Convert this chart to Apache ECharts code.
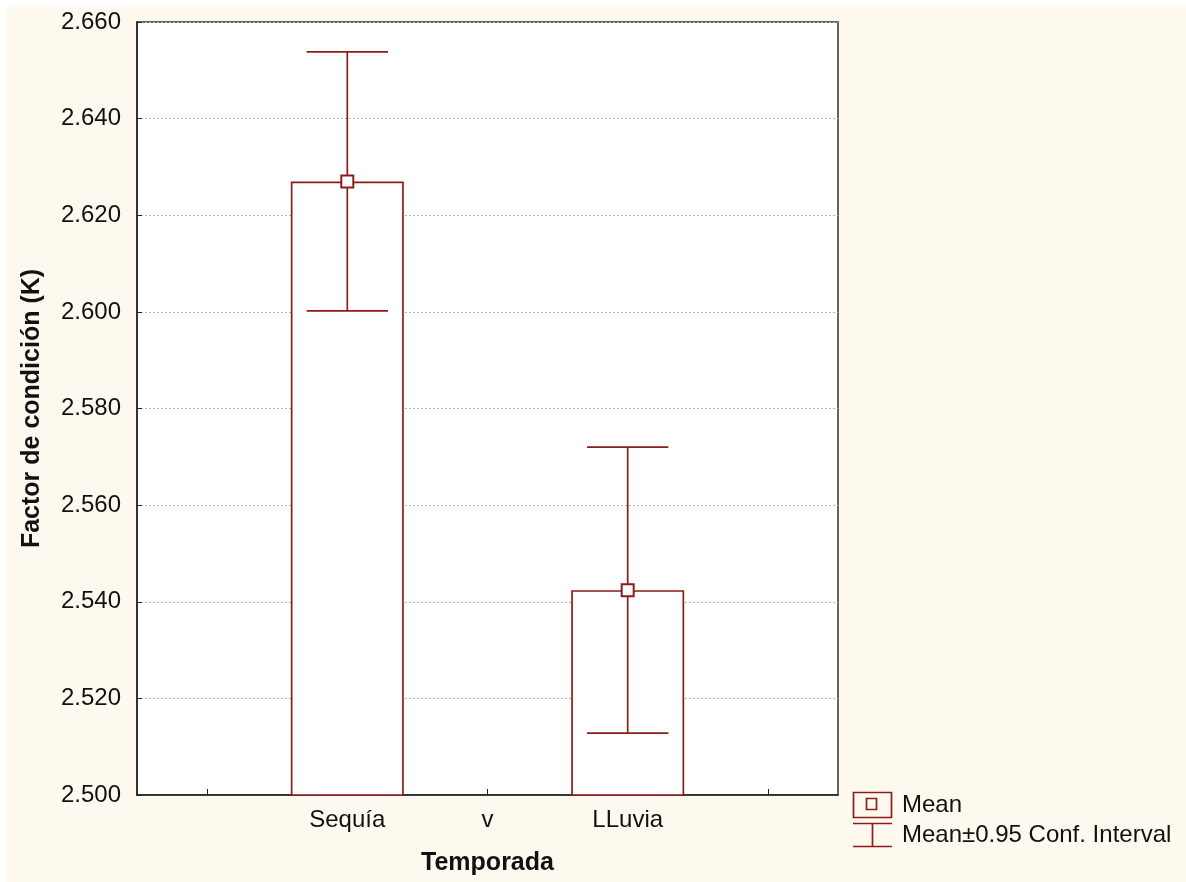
<!DOCTYPE html>
<html><head><meta charset="utf-8">
<script src="https://cdn.jsdelivr.net/npm/echarts@6/dist/echarts.min.js"></script>
<style>
html,body{margin:0;padding:0;background:#fff;}
#bg{position:absolute;left:6px;top:7px;width:1180px;height:875px;background:#FEF9EF;}
#chart{position:absolute;left:0;top:0;width:1186px;height:882px;}
</style></head><body>
<div id="bg"></div><div id="chart"></div>
<script>
// ---- data ----
const categories = ['', 'Sequía', 'v', 'LLuvia', ''];
const means      = [null, 2.6270, null, 2.5424, null];
const ciLower    = [null, 2.6002, null, 2.5128, null];
const ciUpper    = [null, 2.6538, null, 2.5720, null];
const yMin = 2.500, yMax = 2.660, yStep = 0.020;
const xTitle = 'Temporada';
const yTitle = 'Factor de condición (K)';
const legendLabels = ['Mean', 'Mean±0.95 Conf. Interval'];

// ---- build ----
const RED = '#8c1c1c';
const FONT = '"Liberation Sans", Arial, sans-serif';
const TXT = '#111111';
const FS = 24, FSB = 25, LW = 1.7;
const errData = [];
const meanData = [];
categories.forEach((c, i) => {
  if (means[i] != null) {
    errData.push([i, ciLower[i], ciUpper[i]]);
    meanData.push([i, means[i]]);
  }
});

const chart = echarts.init(document.getElementById('chart'), null, {renderer: 'canvas'});
chart.setOption({
  backgroundColor: 'transparent',
  animation: false,
  grid: {left: 137, top: 22, right: 348, bottom: 87, show: true,
         backgroundColor: '#ffffff', borderColor: '#333333', borderWidth: 1.5},
  xAxis: {
    type: 'category', data: categories, boundaryGap: true,
    name: xTitle, nameLocation: 'middle', nameGap: 56,
    nameTextStyle: {fontFamily: FONT, fontSize: FSB, fontWeight: 'bold', color: TXT},
    axisLine: {show: true, lineStyle: {color: '#222', width: 1.5}},
    axisTick: {show: true, inside: true, length: 6, alignWithLabel: true, interval: 0,
               lineStyle: {color: '#222', width: 1}},
    axisLabel: {interval: 0, margin: 13, fontFamily: FONT, fontSize: FS, color: TXT},
    splitLine: {show: false}
  },
  yAxis: {
    type: 'value', min: yMin, max: yMax, interval: yStep,
    name: yTitle, nameLocation: 'middle', nameGap: 92, nameRotate: 90,
    nameTextStyle: {fontFamily: FONT, fontSize: FSB, fontWeight: 'bold', color: TXT},
    axisLine: {show: true, lineStyle: {color: '#222', width: 1.5}},
    axisTick: {show: true, inside: true, length: 5, lineStyle: {color: '#222', width: 1}},
    axisLabel: {margin: 16, fontFamily: FONT, fontSize: FS, color: TXT,
                formatter: v => v.toFixed(3)},
    splitLine: {show: true, lineStyle: {color: '#b5b5b5', type: [2, 2], width: 1}}
  },
  series: [
    {
      type: 'bar', data: means, barWidth: '80.6%', z: 2,
      itemStyle: {color: '#ffffff', borderColor: RED, borderWidth: LW}
    },
    {
      type: 'custom', data: errData, z: 3,
      renderItem: function (params, api) {
        const x = api.value(0);
        const lo = api.coord([x, api.value(1)]);
        const hi = api.coord([x, api.value(2)]);
        const half = api.size([1, 0])[0] * 0.58 / 2;
        const st = {stroke: RED, lineWidth: LW};
        return {type: 'group', children: [
          {type: 'line', shape: {x1: lo[0], y1: lo[1], x2: hi[0], y2: hi[1]}, style: st},
          {type: 'line', shape: {x1: hi[0] - half, y1: hi[1], x2: hi[0] + half, y2: hi[1]}, style: st},
          {type: 'line', shape: {x1: lo[0] - half, y1: lo[1], x2: lo[0] + half, y2: lo[1]}, style: st}
        ]};
      }
    },
    {
      type: 'scatter', data: meanData, z: 4, symbol: 'rect', symbolSize: 12,
      itemStyle: {color: '#ffffff', borderColor: RED, borderWidth: 2, opacity: 1}
    }
  ],
  graphic: [
    {type: 'rect', shape: {x: 853.5, y: 792.5, width: 38, height: 25},
     style: {fill: 'transparent', stroke: RED, lineWidth: LW}},
    {type: 'rect', shape: {x: 866.5, y: 798.5, width: 10, height: 11},
     style: {fill: 'transparent', stroke: RED, lineWidth: LW}},
    {type: 'text', x: 902, y: 805,
     style: {text: legendLabels[0], fontFamily: FONT, fontSize: FS, fill: TXT, textVerticalAlign: 'middle', verticalAlign: 'middle'}},
    {type: 'line', shape: {x1: 853, y1: 823.5, x2: 892, y2: 823.5}, style: {stroke: RED, lineWidth: LW}},
    {type: 'line', shape: {x1: 872.5, y1: 823.5, x2: 872.5, y2: 846.5}, style: {stroke: RED, lineWidth: LW}},
    {type: 'line', shape: {x1: 853, y1: 846.5, x2: 892, y2: 846.5}, style: {stroke: RED, lineWidth: LW}},
    {type: 'text', x: 902, y: 835,
     style: {text: legendLabels[1], fontFamily: FONT, fontSize: FS, fill: TXT, textVerticalAlign: 'middle', verticalAlign: 'middle'}}
  ]
});
</script>
</body></html>
